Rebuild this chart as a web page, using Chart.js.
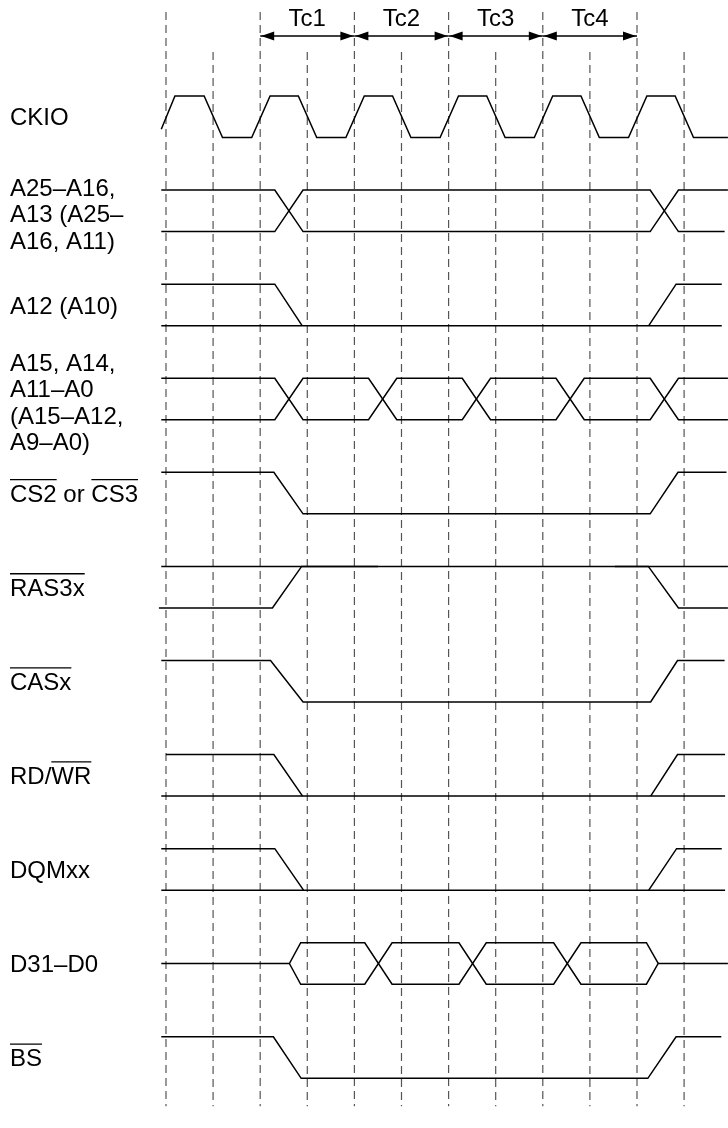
<!DOCTYPE html>
<html>
<head>
<meta charset="utf-8">
<script src="https://cdn.jsdelivr.net/npm/chart.js@4.4.1/dist/chart.umd.min.js"></script>
<style>
  html, body { margin: 0; background: #fff; }
  canvas { display: block; }
</style>
</head>
<body>
<canvas id="timing" width="728" height="1128"></canvas>
<script>
// x = time in CKIO half cycles (one dashed line per half cycle), level: 1 high, 0 low
const cycleLabels = ["Tc1", "Tc2", "Tc3", "Tc4"];
const cycleEdges = [2, 4, 6, 8, 10];
const gridLines = [0, 1, 2, 3, 4, 5, 6, 7, 8, 9, 10, 11];

// ^...^ = overlined part, \n = new line
const signalNames = [
  "CKIO",
  "A25–A16,\nA13 (A25–\nA16, A11)",
  "A12 (A10)",
  "A15, A14,\nA11–A0\n(A15–A12,\nA9–A0)",
  "^CS2^ or ^CS3^",
  "^RAS3x^",
  "^CASx^",
  "RD/^WR^",
  "DQMxx",
  "D31–D0",
  "^BS^"
];

const ckio = [
  [[-0.1, 0.2], [0.19, 1], [0.81, 1], [1.2, 0], [1.82, 0], [2.21, 1], [2.81, 1], [3.2, 0],
   [3.82, 0], [4.21, 1], [4.81, 1], [5.2, 0], [5.82, 0], [6.21, 1], [6.81, 1], [7.2, 0],
   [7.82, 0], [8.21, 1], [8.81, 1], [9.2, 0], [9.82, 0], [10.21, 1], [10.81, 1], [11.2, 0], [11.93, 0]]
];
const addrUpper = [
  [[-0.1, 1], [2.31, 1], [2.91, 0], [10.28, 0], [10.88, 1], [11.93, 1]],
  [[-0.1, 0], [2.31, 0], [2.91, 1], [10.28, 1], [10.88, 0], [11.86, 0]]
];
const a12 = [
  [[-0.1, 1], [2.31, 1], [2.89, 0]],
  [[-0.1, 0], [11.8, 0]],
  [[10.25, 0], [10.83, 1], [11.8, 1]]
];
const addrLower = [
  [[-0.1, 1], [2.31, 1], [2.91, 0], [4.3, 0], [4.9, 1], [6.29, 1], [6.89, 0], [8.28, 0], [8.88, 1], [10.28, 1], [10.88, 0], [11.93, 0]],
  [[-0.1, 0], [2.31, 0], [2.91, 1], [4.3, 1], [4.9, 0], [6.29, 0], [6.89, 1], [8.28, 1], [8.88, 0], [10.28, 0], [10.88, 1], [11.93, 1]]
];
const csx = [
  [[-0.1, 1], [2.29, 1], [2.91, 0], [10.28, 0], [10.87, 1], [11.9, 1]]
];
const ras = [
  [[-0.1, 1], [11.93, 1]],
  [[-0.15, 0], [2.26, 0], [2.88, 1], [4.5, 1]],
  [[9.53, 1], [10.24, 1], [10.88, 0], [11.93, 0]]
];
const cas = [
  [[-0.1, 1], [2.22, 1], [2.91, 0], [10.29, 0], [10.86, 1], [11.86, 1]]
];
const rdwr = [
  [[0, 1], [2.29, 1], [2.9, 0]],
  [[-0.1, 0], [11.87, 0]],
  [[10.29, 0], [10.86, 1], [11.87, 1]]
];
const dqm = [
  [[-0.1, 1], [2.31, 1], [2.92, 0]],
  [[-0.1, 0], [11.87, 0]],
  [[10.25, 0], [10.84, 1], [11.8, 1]]
];
const dataBus = [
  [[-0.1, 0.5], [2.62, 0.5], [2.86, 1], [4.22, 1], [4.8, 0], [6.22, 0], [6.8, 1], [8.23, 1], [8.81, 0], [10.2, 0], [10.45, 0.5], [11.93, 0.5]],
  [[2.62, 0.5], [2.86, 0], [4.22, 0], [4.8, 1], [6.22, 1], [6.8, 0], [8.23, 0], [8.81, 1], [10.2, 1], [10.45, 0.5]]
];
const bs = [
  [[-0.1, 1], [2.28, 1], [2.87, 0], [10.23, 0], [10.83, 1], [11.79, 1]]
];

const signals = [ckio, addrUpper, a12, addrLower, csx, ras, cas, rdwr, dqm, dataBus, bs];

// layout (in axis units: x = half cycle, y = signal swing)
const ROW = 2.267;
const X_MIN = -3.524, X_MAX = 11.932;
const Y_MIN = -23.867, Y_MAX = 3.313;
const GRID_TOP_EVEN = 3.024, GRID_TOP_ODD = 2.06, GRID_BOTTOM = -23.34;
const ARROW_Y = 2.446;

const datasets = [];
gridLines.forEach(k => {
  datasets.push({
    data: [{ x: k, y: k % 2 === 0 ? GRID_TOP_EVEN : GRID_TOP_ODD }, { x: k, y: GRID_BOTTOM }],
    borderColor: '#555', borderWidth: 1.2, borderDash: [8, 5], order: 2
  });
});
for (let i = 0; i < cycleLabels.length; i++) {
  datasets.push({
    data: [{ x: cycleEdges[i], y: ARROW_Y }, { x: cycleEdges[i + 1], y: ARROW_Y }],
    borderColor: '#000', borderWidth: 1.5, order: 0
  });
}
signals.forEach((paths, r) => {
  paths.forEach(p => {
    datasets.push({
      data: p.map(([t, lv]) => ({ x: t, y: lv - r * ROW })),
      borderColor: '#000', borderWidth: 1.5, order: 0
    });
  });
});

function arrowHead(ctx, xt, yt, dir) {
  ctx.beginPath();
  ctx.moveTo(xt, yt);
  ctx.lineTo(xt + dir * 13, yt - 4.4);
  ctx.lineTo(xt + dir * 13, yt + 4.4);
  ctx.closePath();
  ctx.fill();
}

const textPlugin = {
  id: 'timingText',
  afterDatasetsDraw(chart) {
    const { ctx, scales: { x, y } } = chart;
    ctx.save();
    ctx.fillStyle = '#000';
    ctx.strokeStyle = '#000';
    ctx.font = '24px "Liberation Sans", Arial, sans-serif';

    // cycle arrows and names
    const ay = y.getPixelForValue(ARROW_Y);
    ctx.textAlign = 'center';
    for (let i = 0; i < cycleLabels.length; i++) {
      const x0 = x.getPixelForValue(cycleEdges[i]);
      const x1 = x.getPixelForValue(cycleEdges[i + 1]);
      arrowHead(ctx, x0 + 1, ay, 1);
      arrowHead(ctx, x1 - 1, ay, -1);
      ctx.fillText(cycleLabels[i], (x0 + x1) / 2, ay - 9.5);
    }

    // signal names
    ctx.textAlign = 'left';
    ctx.lineWidth = 1.3;
    signalNames.forEach((name, r) => {
      const lines = name.split('\n');
      const mid = y.getPixelForValue(0.5 - r * ROW) + (lines.length > 1 ? 3 : 0);
      const lh = 26.2;
      lines.forEach((line, i) => {
        const base = mid + (i - (lines.length - 1) / 2) * lh + 8.6;
        let px = 10;
        line.split('^').forEach((part, j) => {
          if (!part) return;
          const w = ctx.measureText(part).width;
          ctx.fillText(part, px, base);
          if (j % 2 === 1) {
            ctx.beginPath();
            ctx.moveTo(px, base - 22);
            ctx.lineTo(px + w, base - 22);
            ctx.stroke();
          }
          px += w;
        });
      });
    });
    ctx.restore();
  }
};

new Chart(document.getElementById('timing').getContext('2d'), {
  type: 'scatter',
  data: { datasets: datasets },
  options: {
    responsive: false,
    animation: false,
    devicePixelRatio: 1,
    layout: { padding: 0 },
    showLine: true,
    elements: { point: { radius: 0, hoverRadius: 0 }, line: { tension: 0, fill: false } },
    plugins: { legend: { display: false }, tooltip: { enabled: false } },
    events: [],
    scales: {
      x: { type: 'linear', min: X_MIN, max: X_MAX, display: false },
      y: { type: 'linear', min: Y_MIN, max: Y_MAX, display: false }
    }
  },
  plugins: [textPlugin]
});
</script>
</body>
</html>
